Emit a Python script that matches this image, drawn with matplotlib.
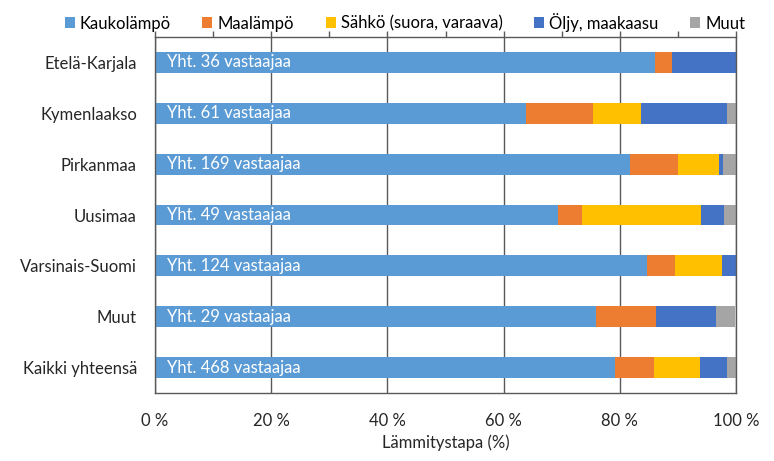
import numpy as np
import matplotlib.pyplot as plt
from matplotlib.ticker import MultipleLocator, FuncFormatter

plt.rcParams['font.family'] = ['Lato', 'DejaVu Sans']

# data (share of respondents, %), rows from top to bottom
regions = ['Etelä-Karjala', 'Kymenlaakso', 'Pirkanmaa', 'Uusimaa',
           'Varsinais-Suomi', 'Muut', 'Kaikki yhteensä']
totals = [36, 61, 169, 49, 124, 29, 468]
series = ['Kaukolämpö', 'Maalämpö', 'Sähkö (suora, varaava)',
          'Öljy, maakaasu', 'Muut']
kaukolampo = [86.1, 63.9, 81.7, 69.4, 84.7, 75.9, 79.1]
maalampo = [2.8, 11.5, 8.3, 4.1, 4.8, 10.3, 6.8]
sahko = [0.0, 8.2, 7.1, 20.4, 8.1, 0.0, 7.9]
oljy = [11.1, 14.8, 0.6, 4.1, 2.4, 10.3, 4.7]
muut = [0.0, 1.6, 2.4, 2.0, 0.0, 3.4, 1.5]

colors = ['#5B9BD5', '#ED7D31', '#FFC000', '#4472C4', '#A5A5A5']
axis_col = '#595959'
txt_col = '#262626'
fs = 12

fig = plt.figure(figsize=(7.74, 4.61), dpi=100)
ax = fig.add_axes([0.2003, 0.1475, 0.7507, 0.7722])

y = np.arange(len(regions))
left = np.zeros(len(regions))
for name, vals, c in zip(series, [kaukolampo, maalampo, sahko, oljy, muut], colors):
    vals = np.array(vals)
    ax.barh(y, vals, left=left, height=0.41, color=c, label=name, zorder=2)
    left += vals

for yi, n in zip(y, totals):
    ax.text(2.0, yi, 'Yht. %d vastaajaa' % n, color='white', fontsize=fs,
            va='center', ha='left', zorder=3)

ax.set_xlim(0, 100)
ax.set_ylim(len(regions) - 0.5, -0.5)
ax.set_yticks(y)
ax.set_yticklabels(regions, fontsize=fs, color=txt_col)
ax.tick_params(axis='y', length=0, pad=13)

ax.xaxis.set_major_locator(MultipleLocator(20))
ax.xaxis.set_minor_locator(MultipleLocator(10))
ax.xaxis.set_major_formatter(FuncFormatter(lambda v, p: '%d %%' % v))
ax.tick_params(axis='x', which='both', top=True, bottom=False, labeltop=False,
               labelbottom=True, direction='out', length=4.5, width=1,
               color=axis_col, labelsize=fs, labelcolor=txt_col, pad=10)
ax.grid(axis='x', which='major', color=axis_col, linewidth=1, zorder=1)
for s in ax.spines.values():
    s.set_color(axis_col)
    s.set_linewidth(1)

ax.set_xlabel('Lämmitystapa (%)', fontsize=fs, color=txt_col, labelpad=4)

ax.legend(loc='center', bbox_to_anchor=(0.43, 1.042), ncol=5, frameon=False,
          fontsize=fs, handlelength=0.6, handleheight=0.6, handletextpad=0.3,
          columnspacing=1.9, borderaxespad=0)

fig.savefig('out.png', dpi=100)
